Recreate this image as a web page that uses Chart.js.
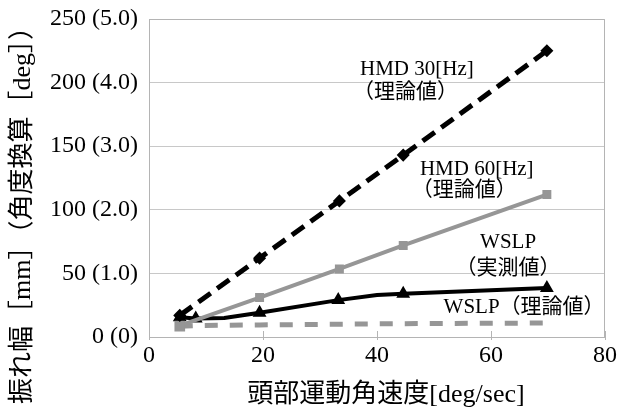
<!DOCTYPE html>
<html>
<head>
<meta charset="utf-8">
<script src="https://cdn.jsdelivr.net/npm/chart.js@4/dist/chart.umd.min.js"></script>
<style>
  html, body { margin: 0; padding: 0; background: #fff; }
  #wrap { width: 621px; height: 412px; }
</style>
</head>
<body>
<div id="wrap"><canvas id="chart" width="621" height="412"></canvas></div>
<script>
// 頭部運動角速度 [deg/sec]
const hmdSpeed = [5.4, 19.4, 33.4, 44.6, 69.8];
const hmd30 = [17, 62, 107, 143, 225];
const hmd60 = [9, 31, 53.5, 72, 112];

const wslpSpeed = [5.4, 8.2, 13.2, 19.4, 33.2, 40.0, 44.6, 69.8];
const wslpMeasured = [15.5, 14.5, 15, 19, 29, 33, 34, 38.5];
const wslpMarker = [4, 4, 0, 4, 4, 0, 4, 4];

const wslpTheorySpeed = [5.4, 8.2, 19.4, 33.2, 44.6, 69.8];
const wslpTheory = [8.5, 9, 9.5, 10, 10.5, 11];

const yTicks = [0, 50, 100, 150, 200, 250];
const yTickLabels = ["0 (0)", "50 (1.0)", "100 (2.0)", "150 (3.0)", "200 (4.0)", "250 (5.0)"];

const xTitle = "頭部運動角速度[deg/sec]";
const yTitle = "振れ幅［mm］（角度換算［deg］）";

// 図中のラベル (データ座標)
const notes = [
  { text: "HMD 30[Hz]", x: 47, y: 210 },
  { text: "（理論値）", x: 45, y: 192 },
  { text: "HMD 60[Hz]", x: 57.5, y: 131.5 },
  { text: "（理論値）", x: 55.3, y: 115 },
  { text: "WSLP", x: 63, y: 74 },
  { text: "（実測値）", x: 63, y: 53.5 },
  { text: "WSLP（理論値）", x: 65.8, y: 23 }
];

const FONT = "'Liberation Serif', 'Noto Sans CJK JP', serif";
const GRAY = "#969696";

function pairs(xs, ys) {
  let out = [];
  for (let i = 0; i < xs.length; i++) {
    out.push({ x: xs[i], y: ys[i] });
  }
  return out;
}

// 枠線と目盛り、ラベル、軸タイトルを描く
const framePlugin = {
  id: "frame",
  afterDatasetsDraw(chart) {
    const ctx = chart.ctx;
    const a = chart.chartArea;
    const xs = chart.scales.x;
    const ys = chart.scales.y;
    ctx.save();
    ctx.strokeStyle = "#b4b4b4";
    ctx.lineWidth = 1;
    ctx.beginPath();
    ctx.moveTo(a.left, a.top + 0.5);
    ctx.lineTo(a.right - 0.5, a.top + 0.5);
    ctx.lineTo(a.right - 0.5, a.bottom);
    ctx.stroke();
    xs.ticks.forEach(function (t) {
      const px = Math.round(xs.getPixelForValue(t.value)) + 0.5;
      ctx.beginPath();
      ctx.moveTo(px, a.bottom - 6);
      ctx.lineTo(px, a.bottom + 3);
      ctx.stroke();
    });

    ctx.fillStyle = "#000";
    ctx.font = "21px " + FONT;
    ctx.textAlign = "center";
    ctx.textBaseline = "middle";
    for (const n of notes) {
      ctx.fillText(n.text, xs.getPixelForValue(n.x), ys.getPixelForValue(n.y));
    }

    // 軸タイトル
    ctx.font = "26px " + FONT;
    ctx.fillText(xTitle, (a.left + a.right) / 2 + 9, a.bottom + 58);
    ctx.translate(23, 209);
    ctx.rotate(-Math.PI / 2);
    ctx.fillText(yTitle, 0, 0);
    ctx.restore();
  }
};

new Chart(document.getElementById("chart"), {
  type: "scatter",
  data: {
    datasets: [
      {
        label: "HMD 30[Hz]（理論値）",
        data: pairs(hmdSpeed, hmd30),
        showLine: true,
        borderColor: "#000",
        backgroundColor: "#000",
        borderWidth: 5,
        borderDash: [15, 8],
        pointStyle: "rectRot",
        pointRadius: 3
      },
      {
        label: "HMD 60[Hz]（理論値）",
        data: pairs(hmdSpeed, hmd60),
        showLine: true,
        borderColor: GRAY,
        backgroundColor: GRAY,
        borderWidth: 4,
        pointStyle: "rect",
        pointRadius: 3.5
      },
      {
        label: "WSLP（理論値）",
        data: pairs(wslpTheorySpeed, wslpTheory),
        showLine: true,
        borderColor: GRAY,
        backgroundColor: GRAY,
        borderWidth: 5,
        borderDash: [13, 12],
        pointStyle: "rect",
        pointRadius: [4, 0, 0, 0, 0, 0]
      },
      {
        label: "WSLP（実測値）",
        data: pairs(wslpSpeed, wslpMeasured),
        showLine: true,
        borderColor: "#000",
        backgroundColor: "#000",
        borderWidth: 4,
        pointStyle: "triangle",
        pointRadius: wslpMarker
      }
    ]
  },
  options: {
    responsive: false,
    animation: false,
    layout: { padding: { left: 0, right: 12, top: 19, bottom: 0 } },
    plugins: {
      legend: { display: false },
      tooltip: { enabled: false }
    },
    scales: {
      x: {
        type: "linear",
        min: 0,
        max: 80,
        ticks: {
          stepSize: 20,
          color: "#000",
          font: { family: FONT, size: 24 },
          padding: 4
        },
        grid: { display: false, drawTicks: false },
        border: { color: "#b4b4b4" },
        title: { display: false },
        afterFit: function (scale) { scale.height = 75; }
      },
      y: {
        min: 0,
        max: 250,
        afterBuildTicks: function (scale) {
          scale.ticks = yTicks.map(function (v) { return { value: v }; });
        },
        ticks: {
          color: "#000",
          font: { family: FONT, size: 24 },
          padding: 11,
          callback: function (value) {
            return yTickLabels[yTicks.indexOf(value)];
          }
        },
        grid: { color: "#c8c8c8", drawTicks: false },
        border: { color: "#b4b4b4" },
        title: { display: false },
        afterFit: function (scale) {
          scale.width = 149;
          scale.paddingTop = 0;
          scale.paddingBottom = 0;
        }
      }
    }
  },
  plugins: [framePlugin]
});
</script>
</body>
</html>
